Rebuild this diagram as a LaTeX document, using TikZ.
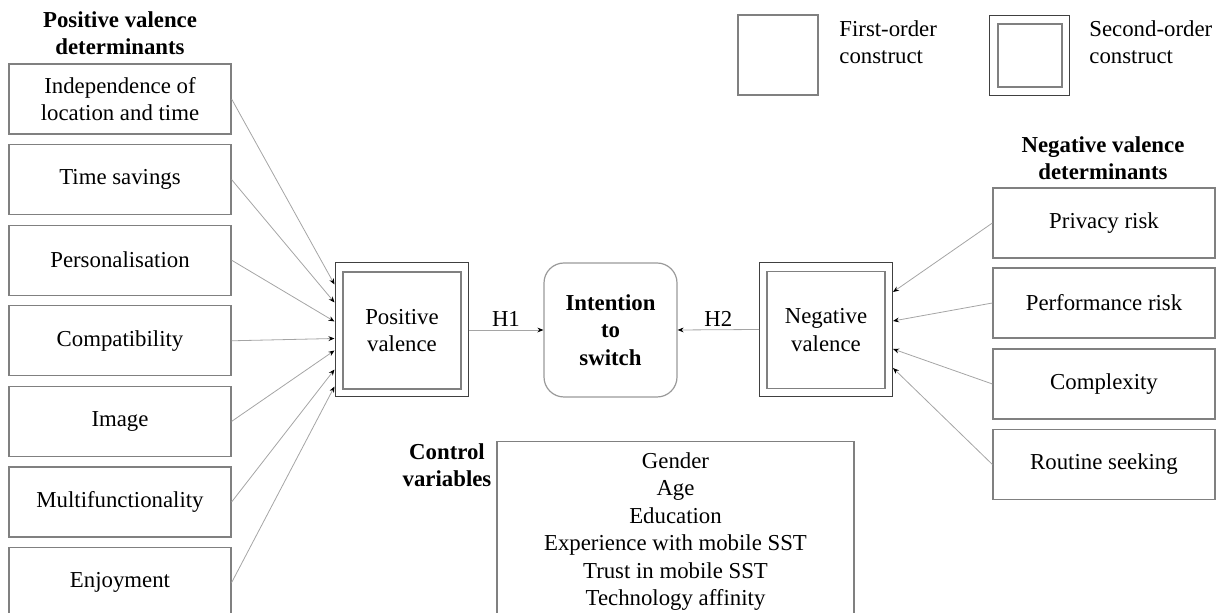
\documentclass[tikz,border=0pt]{standalone}
\usepackage{fontspec}
\setmainfont{Liberation Serif}
\usetikzlibrary{arrows.meta, positioning, calc}

\definecolor{boxgray}{RGB}{128,128,128}
\definecolor{linkgray}{RGB}{165,165,165}

\begin{document}
\begin{tikzpicture}[
      x=0.5pt, y=-0.5pt,
      every node/.style={font=\fontsize{11.4}{13.7}\selectfont, align=center},
      fobox/.style={draw=boxgray, line width=0.6pt, minimum width=111pt, minimum height=35pt, inner sep=0pt},
      soouter/.style={draw=black!75, line width=0.5pt, minimum width=66.5pt, minimum height=67pt, inner sep=0pt},
      soinner/.style={draw=boxgray, line width=0.8pt, minimum width=59pt, minimum height=58.5pt, inner sep=0pt},
      head/.style={font=\fontsize{11.4}{13.7}\selectfont\bfseries},
      link/.style={draw=linkgray, line width=0.4pt, -{Stealth[length=3pt, width=2.4pt, color=black]}},
      >=Stealth
    ]
      \useasboundingbox (0,0) rectangle (1216,613);

      % legend
      \node[fobox, line width=0.8pt, minimum width=40pt, minimum height=40pt] (lgfo) at (778,55) {};
      \node[anchor=west, align=left, inner xsep=0pt] (lgfotxt) at (839,42) {First-order\\construct};
      \node[soouter, minimum width=40pt, minimum height=40pt] (lgso) at (1029,56) {};
      \node[soinner, minimum width=32pt, minimum height=31.5pt] (lgsoin) at (1030,55.5) {};
      \node[anchor=west, align=left, inner xsep=0pt] (lgsotxt) at (1089,42) {Second-order\\construct};

      % positive valence determinants
      \node[head] (poshead) at (120,33) {Positive valence\\determinants};
      \node[fobox] (p1) at (120,99) {Independence of\\location and time};
      \node[fobox] (p2) at (120,179.6) {Time savings};
      \node[fobox] (p3) at (120,260.2) {Personalisation};
      \node[fobox] (p4) at (120,340.8) {Compatibility};
      \node[fobox] (p5) at (120,421.4) {Image};
      \node[fobox] (p6) at (120,502) {Multifunctionality};
      \node[fobox] (p7) at (120,582.6) {Enjoyment};

      % second-order constructs and outcome
      \node[soouter] (pv) at (401.5,330) {};
      \node[soinner] (pvin) at (402,330.5) {Positive\\valence};
      \node[draw=boxgray!80, line width=0.6pt, rounded corners=10pt, minimum width=66.5pt,
            minimum height=67pt, font=\fontsize{11.4}{13.7}\selectfont\bfseries] (it) at (610.5,330) {Intention\\to\\switch};
      \node[soouter] (nv) at (826,329.5) {};
      \node[soinner] (nvin) at (826,330) {Negative\\valence};

      % negative valence determinants
      \node[head] (neghead) at (1103,158) {Negative valence\\determinants};
      \node[fobox] (n1) at (1104,223) {Privacy risk};
      \node[fobox] (n2) at (1104,303) {Performance risk};
      \node[fobox] (n3) at (1104,384) {Complexity};
      \node[fobox] (n4) at (1104,464.5) {Routine seeking};

      % control variables
      \node[head] (cvhead) at (447,465) {Control\\variables};
      \node[draw=boxgray, line width=0.6pt, anchor=north, minimum width=178.5pt, inner xsep=0pt, inner ysep=5.5pt] (cv) at (675.5,441)
        {Gender\\Age\\Education\\Experience with mobile SST\\Trust in mobile SST\\Technology affinity\\[1pt]};

      % paths
      \draw[link] (p1.east) -- ($(pv.north west)+(0,22)$);
      \draw[link] (p2.east) -- ($(pv.north west)+(0,40)$);
      \draw[link] (p3.east) -- ($(pv.north west)+(0,59)$);
      \draw[link] (p4.east) -- ($(pv.north west)+(0,76)$);
      \draw[link] (p5.east) -- ($(pv.north west)+(0,88)$);
      \draw[link] (p6.east) -- ($(pv.north west)+(0,107)$);
      \draw[link] (p7.east) -- ($(pv.north west)+(0,124)$);
      \draw[link] (n1.west) -- ($(nv.north east)+(0,30)$);
      \draw[link] (n2.west) -- ($(nv.north east)+(0,59)$);
      \draw[link] (n3.west) -- ($(nv.north east)+(0,87)$);
      \draw[link] (n4.west) -- ($(nv.north east)+(0,106)$);
      \draw[link] (pv.east) -- node[above, inner sep=1.5pt] (h1) {H1} (it.west);
      \draw[link] (nv.west) -- node[above, inner sep=1.5pt] (h2) {H2} (it.east);
    \end{tikzpicture}
\end{document}
